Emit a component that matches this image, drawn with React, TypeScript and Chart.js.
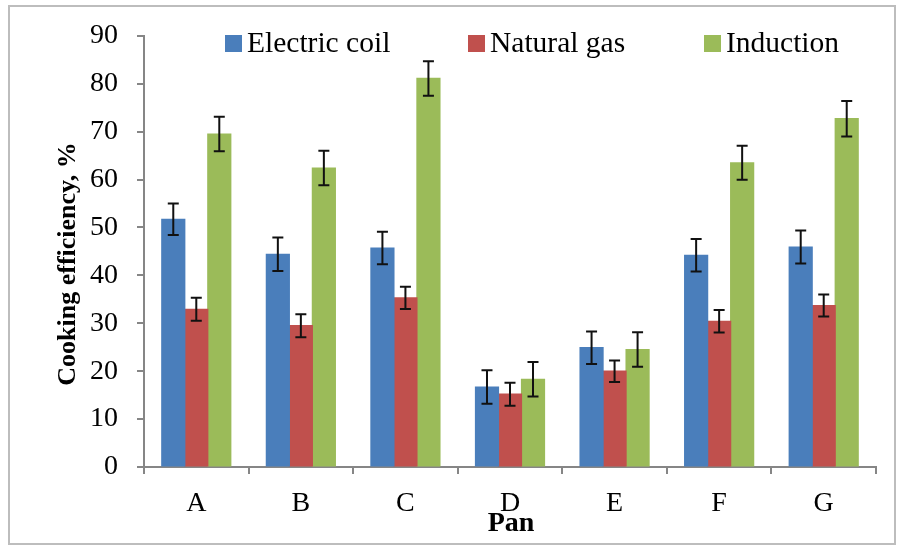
import React, { useEffect, useRef } from "react";
import { Chart, registerables } from "chart.js";

Chart.register(...registerables);

const pans = ["A", "B", "C", "D", "E", "F", "G"];
const seriesNames = ["Electric coil", "Natural gas", "Induction"];
const seriesColors = ["#4a7ebb", "#c0504d", "#9bbb59"];

const electricCoil = [51.7, 44.4, 45.7, 16.7, 24.9, 44.2, 45.9];
const electricCoilErr = [3.3, 3.5, 3.4, 3.5, 3.4, 3.4, 3.45];
const naturalGas = [32.9, 29.5, 35.3, 15.2, 20.0, 30.4, 33.7];
const naturalGasErr = [2.4, 2.4, 2.3, 2.4, 2.25, 2.35, 2.3];
const induction = [69.5, 62.4, 81.1, 18.3, 24.5, 63.5, 72.7];
const inductionErr = [3.6, 3.6, 3.6, 3.6, 3.6, 3.55, 3.7];

const yTicks = [0, 10, 20, 30, 40, 50, 60, 70, 80, 90];

const SERIF = '"Liberation Serif", "Times New Roman", serif';

// Draws ± error whiskers on each bar using the value scale.
const errorBars = {
  id: "errorBars",
  afterDatasetsDraw(chart: any) {
    const { ctx } = chart;
    const yScale = chart.scales.y;
    ctx.save();
    ctx.strokeStyle = "#111";
    ctx.lineWidth = 2;
    chart.data.datasets.forEach((ds: any, i: number) => {
      const meta = chart.getDatasetMeta(i);
      meta.data.forEach((bar: any, j: number) => {
        const v = ds.data[j];
        const e = ds.errors[j];
        const x = bar.x;
        const yt = yScale.getPixelForValue(v + e);
        const yb = yScale.getPixelForValue(v - e);
        const cap = 5.5;
        ctx.beginPath();
        ctx.moveTo(x, yt);
        ctx.lineTo(x, yb);
        ctx.moveTo(x - cap, yt);
        ctx.lineTo(x + cap, yt);
        ctx.moveTo(x - cap, yb);
        ctx.lineTo(x + cap, yb);
        ctx.stroke();
      });
    });
    ctx.restore();
  },
};

// Frame, legend and axis titles.
const decorations = {
  id: "decorations",
  afterDraw(chart: any) {
    const { ctx, chartArea } = chart;
    ctx.save();
    // outer frame
    ctx.strokeStyle = "#bdbdbd";
    ctx.lineWidth = 2;
    ctx.strokeRect(9, 6, 886, 538);

    // legend
    const legendX = [225, 468, 704];
    ctx.font = `29.5px ${SERIF}`;
    ctx.textBaseline = "middle";
    ctx.textAlign = "left";
    seriesNames.forEach((name, i) => {
      ctx.fillStyle = seriesColors[i];
      ctx.fillRect(legendX[i], 35, 17, 17);
      ctx.fillStyle = "#000";
      ctx.fillText(name, legendX[i] + 22, 44);
    });

    // y axis title
    ctx.font = `bold 26px ${SERIF}`;
    ctx.textAlign = "center";
    ctx.save();
    ctx.translate(68, 264);
    ctx.rotate(-Math.PI / 2);
    ctx.fillText("Cooking efficiency, %", 0, 0);
    ctx.restore();

    // x axis title
    ctx.font = `bold 28px ${SERIF}`;
    ctx.fillText("Pan", (chartArea.left + chartArea.right) / 2 + 1, 524);
    ctx.restore();
  },
};

export default function App() {
  const ref = useRef<HTMLCanvasElement>(null);

  useEffect(() => {
    const mk = (label: string, data: number[], errors: number[], color: string) => ({
      label,
      data,
      errors,
      backgroundColor: color,
      borderWidth: 0,
      inflateAmount: 0.6,
      barPercentage: 1,
      categoryPercentage: 0.66,
    });
    const chart = new Chart(ref.current as HTMLCanvasElement, {
      type: "bar",
      data: {
        labels: pans,
        datasets: [
          mk(seriesNames[0], electricCoil, electricCoilErr, seriesColors[0]),
          mk(seriesNames[1], naturalGas, naturalGasErr, seriesColors[1]),
          mk(seriesNames[2], induction, inductionErr, seriesColors[2]),
        ] as any,
      },
      options: {
        animation: false,
        responsive: false,
        maintainAspectRatio: false,
        devicePixelRatio: 1,
        layout: { padding: { left: 0, right: 21, top: 34, bottom: 0 } },
        plugins: {
          legend: { display: false },
          tooltip: { enabled: false },
          title: { display: false },
        },
        scales: {
          x: {
            afterFit: (s: any) => {
              s.height = 80;
            },
            grid: {
              drawOnChartArea: false,
              drawTicks: true,
              tickLength: 7,
              color: "#868686",
              lineWidth: 2,
              offset: true,
            },
            border: { color: "#868686", width: 2 },
            ticks: {
              color: "#000",
              font: { family: SERIF, size: 28 },
              padding: 13,
              maxRotation: 0,
            },
          },
          y: {
            min: 0,
            max: 90,
            afterFit: (s: any) => {
              s.width = 144;
            },
            afterBuildTicks: (s: any) => {
              s.ticks = yTicks.map((v) => ({ value: v }));
            },
            grid: {
              drawOnChartArea: false,
              drawTicks: true,
              tickLength: 7,
              color: "#868686",
              lineWidth: 2,
            },
            border: { color: "#868686", width: 2 },
            ticks: {
              color: "#000",
              font: { family: SERIF, size: 28 },
              padding: 19,
            },
          },
        },
      },
      plugins: [errorBars, decorations],
    });
    return () => chart.destroy();
  }, []);

  return (
    <canvas
      ref={ref}
      width={897}
      height={547}
      style={{ position: "fixed", left: 0, top: 0, width: 897, height: 547, background: "#fff" }}
    />
  );
}
